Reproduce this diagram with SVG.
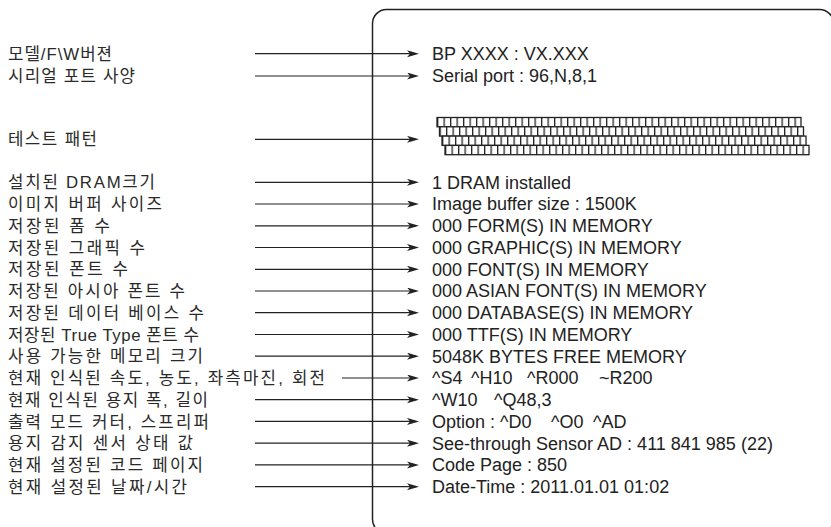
<svg xmlns="http://www.w3.org/2000/svg" width="831" height="527" viewBox="0 0 831 527">
<style>
.lbl{font-family:"Liberation Sans","Noto Sans CJK KR",sans-serif;font-size:16.8px;fill:#2a2a2a}
.out{font-family:"Liberation Sans",Arial,sans-serif;font-size:18px;fill:#222}
.ln{stroke:#222;stroke-width:1.2;fill:none;marker-end:url(#ah)}
</style>
<defs>
<marker id="ah" markerUnits="userSpaceOnUse" markerWidth="13" markerHeight="8" refX="9" refY="3.5" orient="auto">
<path d="M0,0 L12,3.5 L0,7 L3,3.5 Z" fill="#222"/>
</marker>
<pattern id="cells" width="6.5" height="9.3" patternUnits="userSpaceOnUse">
<rect width="6.5" height="9.3" fill="#fff"/>
<rect width="1.3" height="9.3" fill="#222"/>
</pattern>
</defs>
<rect id="frame" x="372.5" y="9.5" width="461" height="524" rx="14" fill="none" stroke="#222" stroke-width="1.5"/>
<g id="connectors">
<line class="ln" x1="255" y1="53.7" x2="416" y2="53.7"/>
<line class="ln" x1="255" y1="76" x2="416" y2="76"/>
<line class="ln" x1="255" y1="139.3" x2="416" y2="139.3"/>
<line class="ln" x1="255" y1="182.3" x2="416" y2="182.3"/>
<line class="ln" x1="255" y1="204" x2="416" y2="204"/>
<line class="ln" x1="255" y1="225.8" x2="416" y2="225.8"/>
<line class="ln" x1="255" y1="247.5" x2="416" y2="247.5"/>
<line class="ln" x1="255" y1="269.3" x2="416" y2="269.3"/>
<line class="ln" x1="255" y1="291" x2="416" y2="291"/>
<line class="ln" x1="255" y1="312.7" x2="416" y2="312.7"/>
<line class="ln" x1="255" y1="334.5" x2="416" y2="334.5"/>
<line class="ln" x1="255" y1="356.2" x2="416" y2="356.2"/>
<line class="ln" x1="342" y1="378" x2="416" y2="378"/>
<line class="ln" x1="255" y1="399.7" x2="416" y2="399.7"/>
<line class="ln" x1="255" y1="421.4" x2="416" y2="421.4"/>
<line class="ln" x1="255" y1="443.2" x2="416" y2="443.2"/>
<line class="ln" x1="255" y1="464.9" x2="416" y2="464.9"/>
<line class="ln" x1="255" y1="486.7" x2="416" y2="486.7"/>
</g>
<g id="n-model"><text class="lbl" x="8" y="59.8" textLength="104">모델/F\W버젼</text><text class="out" x="432" y="60">BP XXXX : VX.XXX</text></g>
<g id="n-serial"><text class="lbl" x="8" y="82.1" textLength="127">시리얼 포트 사양</text><text class="out" x="432" y="82.3">Serial port : 96,N,8,1</text></g>
<g id="n-test"><text class="lbl" x="8" y="145.4" textLength="89">테스트 패턴</text>
<g transform="translate(437,117.5)"><rect width="364" height="9.3" fill="url(#cells)" stroke="#222" stroke-width="1.3"/></g>
<g transform="translate(439.5,126.8)"><rect width="364" height="9.3" fill="url(#cells)" stroke="#222" stroke-width="1.3"/></g>
<g transform="translate(442,136.1)"><rect width="364" height="9.3" fill="url(#cells)" stroke="#222" stroke-width="1.3"/></g>
<g transform="translate(445,145.4)"><rect width="364" height="9.3" fill="url(#cells)" stroke="#222" stroke-width="1.3"/></g>
</g>
<g id="n-dram"><text class="lbl" x="8" y="188.4" textLength="147">설치된 DRAM크기</text><text class="out" x="432" y="188.6">1 DRAM installed</text></g>
<g id="n-buffer"><text class="lbl" x="8" y="210.1" textLength="154">이미지 버퍼 사이즈</text><text class="out" x="432" y="210.3">Image buffer size : 1500K</text></g>
<g id="n-form"><text class="lbl" x="8" y="231.9" textLength="102">저장된 폼 수</text><text class="out" x="432" y="232.1">000 FORM(S) IN MEMORY</text></g>
<g id="n-graphic"><text class="lbl" x="8" y="253.6" textLength="137">저장된 그래픽 수</text><text class="out" x="432" y="253.8">000 GRAPHIC(S) IN MEMORY</text></g>
<g id="n-font"><text class="lbl" x="8" y="275.4" textLength="120">저장된 폰트 수</text><text class="out" x="432" y="275.6">000 FONT(S) IN MEMORY</text></g>
<g id="n-asian"><text class="lbl" x="8" y="297.1" textLength="177">저장된 아시아 폰트 수</text><text class="out" x="432" y="297.3">000 ASIAN FONT(S) IN MEMORY</text></g>
<g id="n-db"><text class="lbl" x="8" y="318.8" textLength="196">저장된 데이터 베이스 수</text><text class="out" x="432" y="319">000 DATABASE(S) IN MEMORY</text></g>
<g id="n-ttf"><text class="lbl" x="8" y="340.6" textLength="191">저장된 True Type 폰트 수</text><text class="out" x="432" y="340.8">000 TTF(S) IN MEMORY</text></g>
<g id="n-mem"><text class="lbl" x="8" y="362.3" textLength="195">사용 가능한 메모리 크기</text><text class="out" x="432" y="362.5">5048K BYTES FREE MEMORY</text></g>
<g id="n-speed"><text class="lbl" x="8" y="384.1" textLength="317">현재 인식된 속도, 농도, 좌측마진, 회전</text><text class="out" y="384.3"><tspan x="432">^S4</tspan><tspan x="471">^H10</tspan><tspan x="527">^R000</tspan><tspan x="599">~R200</tspan></text></g>
<g id="n-width"><text class="lbl" x="8" y="405.8" textLength="200">현재 인식된 용지 폭, 길이</text><text class="out" y="406"><tspan x="432">^W10</tspan><tspan x="494">^Q48,3</tspan></text></g>
<g id="n-mode"><text class="lbl" x="8" y="427.5" textLength="201">출력 모드 커터, 스프리퍼</text><text class="out" y="427.7"><tspan x="432">Option : ^D0</tspan><tspan x="551">^O0</tspan><tspan x="593">^AD</tspan></text></g>
<g id="n-sensor"><text class="lbl" x="8" y="449.3" textLength="185">용지 감지 센서 상태 값</text><text class="out" x="432" y="449.5">See-through Sensor AD : 411 841 985 (22)</text></g>
<g id="n-code"><text class="lbl" x="8" y="471" textLength="195">현재 설정된 코드 페이지</text><text class="out" x="432" y="471.2">Code Page : 850</text></g>
<g id="n-date"><text class="lbl" x="8" y="492.8" textLength="179">현재 설정된 날짜/시간</text><text class="out" x="432" y="493">Date-Time : 2011.01.01 01:02</text></g>
</svg>
